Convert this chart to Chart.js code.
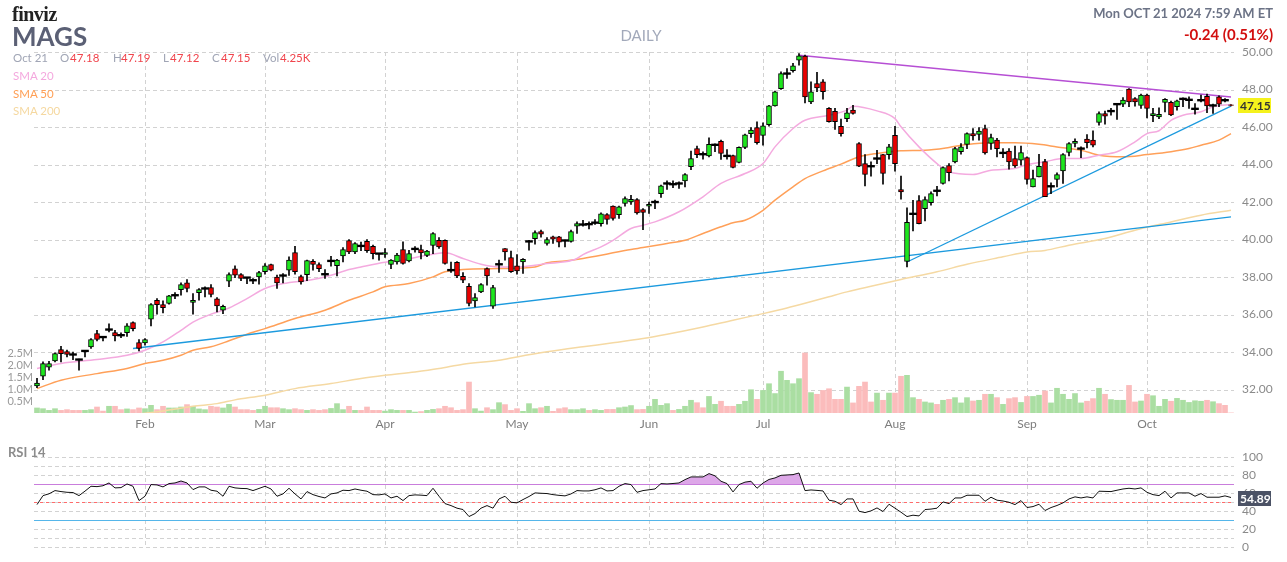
<!DOCTYPE html>
<html>
<head>
<meta charset="utf-8">
<script src="https://cdn.jsdelivr.net/npm/chart.js"></script>
<style>
  body { margin: 0; background: #fff; width: 1287px; height: 562px; overflow: hidden; font-family: Lato, "Liberation Sans", sans-serif; }
  #wrap { position: relative; width: 1287px; height: 562px; }
  canvas { position: absolute; left: 0; }
  #main { top: 0; }
  #rsi { top: 440px; }
  .t { position: absolute; white-space: nowrap; line-height: 1; }
  .lbl { color: #a0a5b5; font-size: 11.5px; top: 52px; }
  .val { color: #f0444c; font-size: 11.5px; top: 52px; }
</style>
</head>
<body>
<div id="wrap">
  <canvas id="main" width="1287" height="440"></canvas>
  <canvas id="rsi" width="1287" height="122"></canvas>

  <div class="t" style="left:12px;top:3px;font:bold 20px 'Liberation Serif',serif;color:#222;letter-spacing:-0.5px">finviz</div>
  <div class="t" style="left:12px;top:23px;font-weight:bold;font-size:26px;color:#5b6075">MAGS</div>
  <div class="t" style="left:641px;top:28px;font-size:15px;color:#a2a9ba;transform:translateX(-50%)">DAILY</div>

  <div class="t lbl" style="left:13px">Oct 21</div>
  <div class="t lbl" style="left:60px">O</div>
  <div class="t val" style="left:70px">47.18</div>
  <div class="t lbl" style="left:113px">H</div>
  <div class="t val" style="left:121px">47.19</div>
  <div class="t lbl" style="left:163px">L</div>
  <div class="t val" style="left:170px">47.12</div>
  <div class="t lbl" style="left:212px">C</div>
  <div class="t val" style="left:221px">47.15</div>
  <div class="t lbl" style="left:263px">Vol</div>
  <div class="t val" style="left:280px">4.25K</div>

  <div class="t" style="left:13px;top:70px;font-size:11.5px;color:#f4a8de">SMA 20</div>
  <div class="t" style="left:13px;top:88px;font-size:11.5px;color:#ff9f55">SMA 50</div>
  <div class="t" style="left:13px;top:105px;font-size:11.5px;color:#f5d8a0">SMA 200</div>

  <div class="t" style="right:14px;top:7px;font-weight:bold;font-size:13px;color:#6c7386">Mon OCT 21 2024 7:59 AM ET</div>
  <div class="t" style="right:14px;top:27px;font-weight:bold;font-size:15px;color:#d20f0f">-0.24 (0.51%)</div>

  <div class="t" style="left:8px;top:446px;font-weight:bold;font-size:13px;color:#8c8c8c">RSI 14</div>
</div>

<script>
// trading days Jan 5 .. Oct 21 2024
const holidays = ['2024-01-15', '2024-02-19', '2024-03-29', '2024-05-27', '2024-06-19', '2024-07-04', '2024-09-02'];
const dates = [];
for (let d = new Date(Date.UTC(2024, 0, 5)); dates.length < 200; d.setUTCDate(d.getUTCDate() + 1)) {
  const s = d.toISOString().slice(0, 10);
  if (d.getUTCDay() === 0 || d.getUTCDay() === 6 || holidays.includes(s)) continue;
  dates.push(s);
}
const monthNames = ['Jan', 'Feb', 'Mar', 'Apr', 'May', 'Jun', 'Jul', 'Aug', 'Sep', 'Oct', 'Nov', 'Dec'];

const open = [
  32.20,32.71,33.20,33.53,34.13,34.03,33.88,33.61,34.05,34.28,
  34.99,34.81,35.19,35.04,34.91,35.04,35.57,34.51,34.49,35.75,
  36.76,36.53,36.59,37.02,37.33,37.69,36.64,37.17,37.38,37.44,
  36.84,36.23,37.78,38.44,38.13,37.98,37.84,38.00,38.28,38.67,
  38.00,38.07,38.36,39.31,38.02,38.13,38.84,38.67,38.16,38.85,
  38.60,39.13,39.95,39.34,39.67,39.90,39.64,39.26,39.20,38.67,
  38.81,39.47,38.86,39.49,39.47,39.15,39.68,39.96,39.96,38.38,
  38.79,38.04,37.51,36.73,37.21,38.45,36.44,38.67,39.52,39.04,
  38.60,38.81,39.89,40.04,40.43,39.79,40.14,40.14,39.96,39.90,
  40.71,40.79,40.83,40.89,40.85,41.33,41.78,41.33,41.92,42.01,
  42.13,41.60,41.78,41.99,42.45,42.98,42.96,42.98,43.13,43.88,
  44.85,44.56,44.46,45.04,45.23,44.47,44.48,44.11,44.91,45.65,
  45.97,45.55,46.13,47.13,48.05,48.84,49.00,49.56,49.78,47.34,
  48.32,48.41,46.99,46.84,46.04,46.45,46.90,45.12,44.05,43.92,
  44.31,44.53,44.53,45.55,42.67,38.83,41.36,42.08,41.65,41.97,
  42.61,42.99,43.95,44.14,44.68,45.07,45.65,45.60,45.92,45.12,
  45.30,44.61,44.71,44.32,44.23,44.37,42.81,43.34,44.16,42.83,
  43.20,43.66,44.64,45.12,44.84,45.35,45.30,46.24,46.72,46.84,
  47.21,47.22,48.02,47.52,47.15,47.70,46.60,46.54,47.31,47.31,
  47.08,47.49,47.44,46.96,47.42,47.64,47.14,47.61,47.44,47.18
];
const high = [
  32.60,33.48,33.51,33.96,34.31,34.10,34.00,33.62,34.08,34.72,
  35.16,34.84,35.50,35.16,35.02,35.52,35.61,34.67,34.72,36.59,
  36.85,36.73,37.03,37.17,37.69,37.87,37.12,37.39,37.48,37.60,
  36.91,36.50,38.22,38.60,38.19,37.99,37.92,38.31,38.72,38.69,
  38.10,38.19,39.08,39.64,38.10,38.90,38.93,38.76,38.40,39.11,
  38.95,39.57,40.00,39.84,39.86,40.00,39.70,39.27,39.52,38.93,
  39.26,39.88,39.43,39.63,39.70,39.43,40.37,40.10,39.98,38.80,
  38.83,38.24,37.65,37.12,37.65,38.49,37.56,38.90,39.52,39.38,
  39.20,38.99,39.96,40.46,40.50,40.10,40.19,40.17,39.97,40.50,
  40.94,41.03,40.94,41.07,41.42,41.39,41.80,41.78,42.28,42.36,
  42.19,41.65,42.00,42.10,42.90,43.13,43.13,43.08,43.52,44.71,
  44.98,44.68,45.42,45.10,45.30,44.80,44.50,44.94,45.62,45.97,
  46.27,46.22,47.16,47.91,48.94,49.12,49.39,49.92,49.83,48.41,
  48.92,48.53,47.03,46.99,46.42,46.99,47.16,45.17,44.53,44.14,
  44.76,44.55,45.08,46.04,43.38,41.69,42.09,42.35,42.28,42.54,
  42.84,43.88,44.05,44.91,45.12,45.69,45.92,45.97,46.10,45.62,
  45.39,44.85,44.85,44.98,44.98,44.41,43.70,44.55,44.28,43.02,
  43.56,44.59,45.17,45.37,44.94,45.60,45.80,46.81,46.85,46.99,
  47.25,47.57,48.05,47.57,47.75,47.75,46.99,47.02,47.52,47.38,
  47.43,47.56,47.61,47.25,47.70,47.75,47.22,47.66,47.52,47.19
];
const low = [
  32.10,32.53,33.03,33.48,33.48,33.74,33.60,33.03,33.74,34.19,
  34.60,34.60,35.07,34.60,34.77,34.84,35.13,34.06,34.37,35.40,
  36.02,36.09,36.55,36.85,37.03,37.21,36.02,36.76,36.94,36.94,
  36.14,36.05,37.48,37.97,37.80,37.65,37.65,37.62,38.15,38.33,
  37.39,37.69,38.08,38.15,37.62,37.80,38.36,38.28,37.92,38.58,
  38.06,38.81,39.25,39.25,39.40,39.31,38.97,38.90,39.04,38.45,
  38.68,38.68,38.81,39.33,38.97,39.08,39.25,39.52,38.68,38.24,
  37.97,37.70,36.46,36.41,37.16,37.56,36.32,38.24,38.90,38.24,
  38.15,38.19,39.43,39.75,40.12,39.70,39.79,39.61,39.61,39.86,
  40.32,40.71,40.57,40.80,40.71,40.82,41.03,41.12,41.78,41.87,
  41.35,40.53,41.39,41.65,42.24,42.67,42.76,42.72,42.80,43.73,
  44.36,44.28,44.41,44.68,44.27,44.28,43.82,44.09,44.85,45.44,
  45.08,45.03,46.04,47.11,48.00,48.59,48.92,49.30,47.29,47.25,
  47.88,47.48,46.26,45.87,45.51,46.28,46.68,43.88,42.86,43.38,
  44.05,42.95,44.28,43.64,42.15,38.54,40.46,40.83,40.99,41.83,
  42.33,42.95,43.13,44.09,44.55,44.85,45.30,45.30,44.55,44.80,
  44.41,44.37,43.75,43.84,43.96,42.95,42.81,43.34,42.28,42.45,
  42.81,42.99,44.46,44.94,44.37,44.89,44.94,46.10,46.15,46.63,
  46.40,47.08,47.08,47.11,46.99,46.49,46.28,46.45,46.81,46.61,
  46.90,47.08,46.99,46.68,47.34,46.76,46.72,47.08,47.34,47.12
];
const close = [
  32.35,33.39,33.39,33.92,33.92,33.87,33.86,33.59,34.07,34.67,
  34.67,34.79,35.21,34.86,34.89,35.40,35.25,34.19,34.67,36.53,
  36.53,36.36,37.00,37.04,37.60,37.39,36.76,37.33,37.40,37.07,
  36.46,36.44,38.13,38.10,37.92,37.96,37.82,38.24,38.60,38.36,
  37.69,38.09,38.90,38.29,37.74,38.88,38.67,38.44,38.14,38.87,
  38.90,39.47,39.34,39.79,39.65,39.40,39.25,39.24,39.31,38.90,
  39.17,38.72,39.25,39.51,39.29,39.38,40.32,39.61,38.72,38.36,
  38.06,37.83,36.59,36.91,37.60,38.06,37.44,38.69,39.34,38.28,
  38.33,38.95,39.91,40.37,40.28,40.00,40.02,39.86,39.94,40.43,
  40.85,40.81,40.81,40.91,41.37,41.07,41.12,41.74,42.19,42.15,
  41.42,41.44,41.88,42.01,42.86,43.00,42.94,43.00,43.47,44.32,
  44.53,44.54,45.07,45.06,44.59,44.45,43.84,44.91,45.58,45.83,
  45.17,46.06,47.13,47.88,48.85,48.86,49.26,49.80,47.61,47.88,
  48.09,47.88,46.28,46.28,45.65,46.76,46.72,43.91,43.47,43.90,
  44.33,43.52,44.94,44.05,42.54,40.92,41.38,40.85,42.13,42.45,
  42.59,43.84,43.57,44.85,44.94,45.65,45.53,45.78,44.62,45.44,
  44.85,44.63,44.14,43.93,44.64,43.20,43.25,43.91,42.28,42.85,
  43.47,44.53,45.12,45.24,44.86,45.17,45.03,46.72,46.58,46.86,
  47.23,47.43,47.34,47.34,47.70,46.99,46.72,46.67,47.47,46.65,
  47.40,47.51,47.46,46.98,47.44,47.13,47.16,47.22,47.42,47.15
];
// volume in thousands
const volume = [
  210,180,110,180,110,140,110,110,110,140,
  250,80,280,280,140,170,140,210,180,320,
  140,280,210,210,250,350,280,170,140,280,
  250,210,360,250,140,140,110,150,280,220,
  220,180,140,180,140,110,140,110,140,190,
  390,140,280,110,110,250,110,110,80,140,
  110,110,110,40,60,110,150,180,280,220,
  110,140,1290,180,80,220,140,430,350,110,
  180,70,390,180,220,280,70,180,220,140,
  140,180,110,140,110,150,150,220,250,310,
  140,150,280,570,320,390,110,150,280,530,
  430,220,690,360,490,280,280,360,490,970,
  570,940,1220,810,1740,1360,1220,1430,2500,850,
  780,940,1010,570,570,1080,420,1110,1290,460,
  830,530,830,830,1530,1570,640,570,460,420,
  360,530,570,640,420,640,500,530,780,780,
  640,360,600,640,440,690,690,740,920,420,
  1030,780,570,810,420,490,600,1030,780,560,
  530,530,1150,460,500,780,720,280,570,490,
  610,530,440,510,490,530,470,390,320,4.25
];
const rsi = [
  47,57,59,62.6,61.5,60.7,60.4,57,62,67.4,
  67,68,71.1,65.6,65.9,70,67.4,51.5,56.3,69.3,
  68.9,66.7,70.4,71.1,73.3,71.1,63.7,66.7,66.7,63,
  61.9,56.3,67.4,65.6,65,64.8,62.6,65,67.4,64.4,
  56.3,58.9,65.2,58.9,53.3,61.5,58.1,56,54.4,58.9,
  60,63,62.6,64.4,63,61.9,58.1,57.8,58.9,54.4,
  56.3,51.5,57,57.8,57.5,57,65.2,56.3,48.1,45.9,
  43,41.5,33.7,37,43,45.9,43,53.3,56.3,49.6,
  48.9,52.6,56,60,59.6,59.3,58.1,57.3,56.7,58.9,
  62.6,62.2,62.2,63.5,65.6,62.2,62.6,67.4,70.4,69.3,
  60.7,62.6,63.5,64.4,70.4,70,70.5,71.1,74.8,77.8,
  77.8,77.8,81.5,79,73,70.4,61.1,69.3,72,73,
  65.2,71,75,76.7,79.6,80,80.4,82.2,62.6,63.3,
  62.8,62.2,51.9,50.7,47,53.3,53.3,39.6,38.1,40,
  43.3,39.3,47.4,43,38.5,33.7,35.2,34.4,41.5,42,
  43,50,48.1,54.4,54.4,57.4,57.4,57.4,50.7,55.2,
  51.9,51,49.6,47,51.5,43.7,44.8,47.4,40.4,43.7,
  46,48.9,53.3,55.6,54.4,55.6,54.4,61.9,61.7,61.5,
  63,64.4,65.2,64.4,65.6,60.7,58.1,57,61.9,54.4,
  60,60,60,56.3,59.3,55.2,55.2,55.2,56.7,54.89
];

// moving averages: [day number (1-based), value]
const sma20Pts = [[1,33.12],[5,33.39],[11,33.6],[16,33.83],[19,34.1],[22,34.54],[25,35.16],[27,35.6],[30,36.02],[33,36.35],[36,36.85],[39,37.39],[42,37.65],[47,37.87],[50,38.1],[53,38.4],[55,38.54],[59,38.79],[62,38.9],[65,39.11],[67,39.22],[69,39.29],[72,38.99],[75,38.68],[78,38.54],[81,38.54],[84,38.63],[86,38.72],[89,38.81],[91,38.99],[92,39.2],[95,39.61],[97,39.96],[100,40.59],[102,40.76],[104,40.94],[108,41.48],[112,42.28],[115,42.99],[119,43.52],[122,44.05],[124,44.94],[127,45.92],[129,46.36],[133,46.63],[136,46.9],[137,47.11],[141,46.86],[144,46.45],[145,46.01],[148,44.94],[151,44.05],[153,43.61],[157,43.47],[160,43.7],[164,43.79],[166,44.0],[169,44.15],[172,44.32],[175,44.32],[178,44.5],[181,44.68],[184,45.21],[186,45.65],[188,45.8],[190,46.36],[192,46.63],[195,46.81],[197,47.08],[200,47.2]];
const sma50Pts = [[1,32.05],[5,32.5],[11,32.85],[16,33.12],[19,33.39],[22,33.56],[25,33.83],[27,34.1],[30,34.28],[33,34.6],[36,34.95],[39,35.25],[44,35.79],[49,36.23],[53,36.76],[57,37.21],[59,37.48],[63,37.65],[67,38.01],[69,38.28],[72,38.4],[78,38.45],[84,38.54],[86,38.76],[89,38.86],[92,38.99],[95,39.16],[97,39.29],[100,39.47],[102,39.57],[106,39.79],[109,39.96],[112,40.32],[115,40.68],[117,40.89],[119,41.03],[122,41.56],[124,42.1],[127,42.81],[129,43.25],[132,43.66],[135,44.02],[138,44.41],[141,44.59],[145,44.73],[149,44.76],[153,44.91],[156,45.07],[160,45.16],[164,45.16],[168,45.08],[171,44.94],[175,44.76],[178,44.5],[182,44.41],[186,44.53],[190,44.68],[193,44.85],[195,45.03],[198,45.3],[200,45.65]];
const sma200Pts = [[18,30.7],[22,30.86],[27,31.11],[31,31.25],[34,31.45],[39,31.7],[44,32.05],[50,32.32],[55,32.59],[59,32.76],[64,32.94],[68,33.12],[72,33.35],[78,33.56],[81,33.74],[86,34.01],[92,34.28],[97,34.49],[102,34.72],[106,34.95],[112,35.34],[117,35.7],[122,36.05],[126,36.35],[129,36.6],[133,36.95],[136,37.21],[140,37.51],[145,37.87],[151,38.28],[156,38.68],[162,39.08],[166,39.34],[169,39.42],[173,39.7],[179,40.05],[184,40.5],[190,40.94],[195,41.3],[200,41.56]];
// drawn trend lines: [day number, price]
const trendLow = [[17,34.19],[200,41.21]];
const trendUp = [[146,38.8],[200,47.11]];
const trendTop = [[128,49.83],[200,47.6]];

const priceTicks = [32,34,36,38,40,42,44,46,48,50];
const volTicks = [500,1000,1500,2000,2500];
const rsiTicks = [0,20,40,60,80,100];
const rsiGrid = [0,10,20,30,40,50,60,70,80,90,100];

const font = 'Lato, "Liberation Sans", sans-serif';
Chart.defaults.font.family = font;

const monthLabel = dates.map((d, i) => (i > 0 && d.slice(5, 7) !== dates[i - 1].slice(5, 7)) ? monthNames[+d.slice(5, 7) - 1] : '');
const monthStarts = monthLabel.map((m, i) => m ? i : -1).filter(i => i >= 0);
const isCross = open.map((o, i) => Math.abs(close[i] - o) <= 0.03);
const pts = arr => arr.map(([n, v]) => ({x: dates[n - 1], y: v}));

const gridLines = {
  id: 'gridLines',
  beforeDatasetsDraw(chart, args, o) {
    const {ctx, chartArea: a, scales} = chart;
    ctx.save();
    ctx.strokeStyle = '#d2d2d2';
    ctx.lineWidth = 1;
    ctx.setLineDash([4, 3]);
    o.values.forEach(v => {
      const py = Math.round(scales.y.getPixelForValue(v)) + 0.5;
      ctx.beginPath(); ctx.moveTo(a.left, py); ctx.lineTo(a.right, py); ctx.stroke();
    });
    monthStarts.forEach(i => {
      const px = Math.round(scales.x.getPixelForValue(i)) + 0.5;
      ctx.beginPath(); ctx.moveTo(px, a.top); ctx.lineTo(px, a.bottom); ctx.stroke();
    });
    ctx.restore();
  }
};

const rsiLevels = {
  id: 'rsiLevels',
  beforeDatasetsDraw(chart) {
    const {ctx, chartArea: a, scales: {y}} = chart;
    ctx.save();
    ctx.lineWidth = 1;
    [[70, '#c97ddc', []], [50, '#ff6b6b', [3, 3]], [30, '#55b6ea', []]].forEach(([v, c, d]) => {
      const py = Math.round(y.getPixelForValue(v)) + 0.5;
      ctx.strokeStyle = c;
      ctx.setLineDash(d);
      ctx.beginPath(); ctx.moveTo(a.left, py); ctx.lineTo(a.right, py); ctx.stroke();
    });
    ctx.restore();
  }
};

const tag = {
  id: 'tag',
  afterDraw(chart, args, o) {
    const {ctx, chartArea: a} = chart;
    const py = Math.round(chart.scales.y.getPixelForValue(o.value));
    ctx.save();
    ctx.fillStyle = o.bg;
    ctx.fillRect(a.right + 4, py - 7, 33, 15);
    ctx.fillStyle = o.color;
    ctx.font = 'bold 12px ' + font;
    ctx.textBaseline = 'middle';
    ctx.fillText(o.text, a.right + 6, py + 1);
    ctx.restore();
  }
};

const green = '#1ee61e', red = '#e80000';

new Chart(document.getElementById('main'), {
  type: 'bar',
  data: {
    labels: dates,
    datasets: [
      {
        label: 'Volume', data: volume, yAxisID: 'yv', order: 10, barThickness: 5, grouped: false,
        backgroundColor: volume.map((v, i) => close[i] >= open[i] ? '#aadea2' : '#fbbcbc')
      },
      { type: 'line', label: 'SMA 200', data: pts(sma200Pts), borderColor: '#f5d9a3', borderWidth: 1.5, pointRadius: 0, cubicInterpolationMode: 'monotone', order: 9 },
      { type: 'line', label: 'SMA 50', data: pts(sma50Pts), borderColor: '#ffa059', borderWidth: 1.5, pointRadius: 0, cubicInterpolationMode: 'monotone', order: 8 },
      { type: 'line', label: 'SMA 20', data: pts(sma20Pts), borderColor: '#f4aadf', borderWidth: 1.5, pointRadius: 0, cubicInterpolationMode: 'monotone', order: 7 },
      { type: 'line', label: 'trend', data: pts(trendLow), borderColor: '#1c9ade', borderWidth: 1.3, pointRadius: 0, order: 6 },
      { type: 'line', label: 'trend', data: pts(trendUp), borderColor: '#1c9ade', borderWidth: 1.3, pointRadius: 0, order: 6 },
      { type: 'line', label: 'trend', data: pts(trendTop), borderColor: '#b64fd4', borderWidth: 1.5, pointRadius: 0, order: 6 },
      {
        label: 'wick', data: low.map((l, i) => [l, high[i]]), order: 3, barThickness: 1, grouped: false,
        backgroundColor: '#000', borderWidth: 0
      },
      {
        label: 'cross', data: close.map((c, i) => isCross[i] ? [(c + open[i]) / 2 - 0.045, (c + open[i]) / 2 + 0.045] : null),
        order: 2, barThickness: 7, grouped: false, backgroundColor: '#000', borderWidth: 0
      },
      {
        label: 'body', data: close.map((c, i) => isCross[i] ? null : [open[i], c]), order: 1, barThickness: 5, grouped: false,
        backgroundColor: close.map((c, i) => c >= open[i] ? green : red),
        borderColor: '#000', borderWidth: 1, borderSkipped: false
      }
    ]
  },
  options: {
    responsive: false,
    animation: false,
    layout: { padding: { top: 52, left: 0, right: 0, bottom: 0 } },
    plugins: {
      legend: { display: false },
      tooltip: { enabled: false },
      gridLines: { values: priceTicks },
      tag: { value: 47.15, text: '47.15', bg: '#f5f21c', color: '#333' }
    },
    scales: {
      x: {
        offset: true,
        grid: { display: false, drawTicks: false },
        border: { display: false },
        ticks: { autoSkip: false, maxRotation: 0, padding: 4, color: '#7d7d7d', font: { size: 12 }, callback: (v, i) => monthLabel[i] },
        afterFit: s => { s.height = 27; }
      },
      y: {
        position: 'right', min: 30.75, max: 50,
        grid: { display: false, drawTicks: false },
        border: { display: false },
        ticks: { padding: 8, color: '#8a8a8a', font: { size: 12 }, callback: v => v.toFixed(2) },
        afterBuildTicks: s => { s.ticks = priceTicks.map(v => ({ value: v })); },
        afterFit: s => { s.width = 53; }
      },
      yv: {
        position: 'left', min: 0, max: 15040,
        grid: { display: false, drawTicks: false },
        border: { display: false },
        ticks: { padding: 1, color: '#999', font: { size: 11 }, callback: v => (v / 1000).toFixed(1) + 'M' },
        afterBuildTicks: s => { s.ticks = volTicks.map(v => ({ value: v })); },
        afterFit: s => { s.width = 34; }
      }
    }
  },
  plugins: [gridLines, tag]
});

new Chart(document.getElementById('rsi'), {
  type: 'line',
  data: {
    labels: dates,
    datasets: [{
      label: 'RSI 14', data: rsi, borderColor: '#111', borderWidth: 1, pointRadius: 0,
      fill: { target: { value: 70 }, above: 'rgba(206,130,222,0.7)', below: 'rgba(0,0,0,0)' }
    }]
  },
  options: {
    responsive: false,
    animation: false,
    layout: { padding: { top: 17, left: 34, right: 0, bottom: 15 } },
    plugins: {
      legend: { display: false },
      tooltip: { enabled: false },
      gridLines: { values: rsiGrid },
      tag: { value: 54.89, text: '54.89', bg: '#4b5265', color: '#fff' }
    },
    scales: {
      x: { display: false, offset: true },
      y: {
        position: 'right', min: 0, max: 100,
        grid: { display: false, drawTicks: false },
        border: { display: false },
        ticks: { padding: 8, color: '#8a8a8a', font: { size: 12 } },
        afterBuildTicks: s => { s.ticks = rsiTicks.map(v => ({ value: v })); },
        afterFit: s => { s.width = 53; }
      }
    }
  },
  plugins: [gridLines, rsiLevels, tag]
});
</script>
</body>
</html>
